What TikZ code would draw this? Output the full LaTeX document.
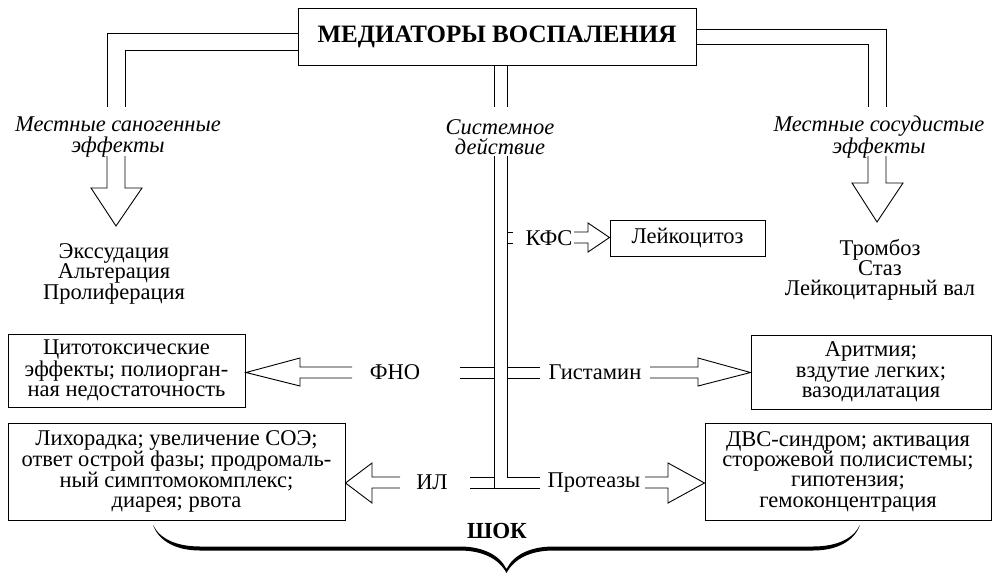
\documentclass[tikz,border=0pt]{standalone}
\usepackage{fontspec}
\setmainfont{Liberation Serif}
\newcommand\myfont{\fontsize{22.5}{20.3}\selectfont}
\newcommand\mytitlefont{\fontsize{25}{25}\selectfont\bfseries}
\begin{document}
\begin{tikzpicture}[x=1pt,y=-1pt,
  ln/.style={line width=0.9pt, line join=miter},
  box/.style={draw, line width=1pt, inner sep=0pt, align=center, font=\myfont},
  txt/.style={inner sep=0pt, align=center, font=\myfont},
  itx/.style={inner sep=0pt, align=center, font=\myfont\itshape},
]
\fill[white] (0,0) rectangle (993,573);
\useasboundingbox (0,0) rectangle (993,573);

% title
\node[box, font=\mytitlefont, minimum width=398, minimum height=57] (med) at (497,36.5) {МЕДИАТОРЫ ВОСПАЛЕНИЯ};

% labels
\node[itx] (lsan) at (118,137) {Местные саногенные\\эффекты};
\node[itx] (sys) at (500,137) {Системное\\действие};
\node[itx] (rsos) at (879,137) {Местные сосудистые\\эффекты};

\node[txt] (llist) at (114,274) {Экссудация\\Альтерация\\Пролиферация};
\node[txt] (rlist) at (880,270) {Тромбоз\\Стаз\\Лейкоцитарный вал};

% left double connector
\draw[ln] (med.west |- 0,33) -- (107,33) -- (107,107);
\draw[ln] (med.west |- 0,50) -- (125,50) -- (125,107);
\draw[ln] (107,156) -- (107,188) -- (91,188) -- (116,226) -- (142,188) -- (125,188) -- (125,156);

% right double connector
\draw[ln] (med.east |- 0,29) -- (886,29) -- (886,107);
\draw[ln] (med.east |- 0,44) -- (868,44) -- (868,107);
\draw[ln] (868,156) -- (868,183) -- (852,183) -- (877,222) -- (903,183) -- (886,183) -- (886,156);

% central stem
\draw[ln] (med.south -| 494,0) -- (494,107);
\draw[ln] (med.south -| 507,0) -- (507,107);
\draw[ln] (494,156) -- (494,488);
\draw[ln] (507,156) -- (507,477) -- (540,477);

% KFS
\node[txt] (kfs) at (549,238) {КФС};
\node[box, minimum width=155, minimum height=36] (leu) at (687.5,238) {Лейкоцитоз};
\draw[ln] (507,232) -- (513,232);
\draw[ln] (507,243) -- (513,243);
\draw[ln] (574,232) -- (588,232) -- (588,223) -- (leu.west |- 0,237.5) -- (588,252) -- (588,243) -- (574,243);

% FNO
\node[txt] (fno) at (395,372.5) {ФНО};
\node[box, minimum width=237, minimum height=73] (cyt) at (126.5,370.5) {Цитотоксические\\эффекты; полиорган-\\ная недостаточность};
\draw[ln] (494,367) -- (460,367);
\draw[ln] (494,378) -- (460,378);
\draw[ln] (352,367) -- (300,367) -- (300,358) -- (246,372.5) -- (300,386) -- (300,378) -- (352,378);

% Gistamin
\node[txt] (gis) at (595,372.5) {Гистамин};
\node[box, minimum width=240, minimum height=74] (arr) at (871,372) {Аритмия;\\вздутие легких;\\вазодилатация};
\draw[ln] (507,367) -- (540,367);
\draw[ln] (507,378) -- (540,378);
\draw[ln] (650,367) -- (698,367) -- (698,358) -- (arr.west |- 0,372.5) -- (698,386) -- (698,378) -- (650,378);

% IL
\node[txt] (il) at (432,482.5) {ИЛ};
\node[box, minimum width=337, minimum height=97] (lih) at (176.5,471.5) {Лихорадка; увеличение СОЭ;\\ответ острой фазы; продромаль-\\ный симптомокомплекс;\\диарея; рвота};
\draw[ln] (494,477) -- (470,477);
\draw[ln] (470,488) -- (540,488);
\draw[ln] (400,477) -- (372,477) -- (372,463) -- (lih.east |- 0,483) -- (372,503) -- (372,488) -- (400,488);

% Proteazy
\node[txt] (pro) at (594,482.5) {Протеазы};
\node[box, minimum width=286, minimum height=97] (dvs) at (848,471.5) {ДВС-синдром; активация\\сторожевой полисистемы;\\гипотензия;\\гемоконцентрация};
\draw[ln] (645,477) -- (668,477) -- (668,463) -- (dvs.west |- 0,483) -- (668,503) -- (668,488) -- (645,488);

% shock brace (tapered)
\node[inner sep=0pt, font=\fontsize{23}{23}\selectfont\bfseries] (shok) at (497,531) {ШОК};
\fill[black] (153,525) .. controls (160,539) and (176.5,546.5) .. (200,546.5)
  -- (459.5,546.5) .. controls (483,546.5) and (499.5,555) .. (506.5,569)
  .. controls (513.5,555) and (530,546.5) .. (553.5,546.5)
  -- (813,546.5) .. controls (836.5,546.5) and (853,539) .. (860,525)
  .. controls (854,541.5) and (836.5,550.5) .. (813,550.5)
  -- (553.5,550.5) .. controls (530,550.5) and (514,559) .. (506.5,573)
  .. controls (499,559) and (483,550.5) .. (459.5,550.5)
  -- (200,550.5) .. controls (176.5,550.5) and (159,541.5) .. (153,525) -- cycle;
\end{tikzpicture}
\end{document}
